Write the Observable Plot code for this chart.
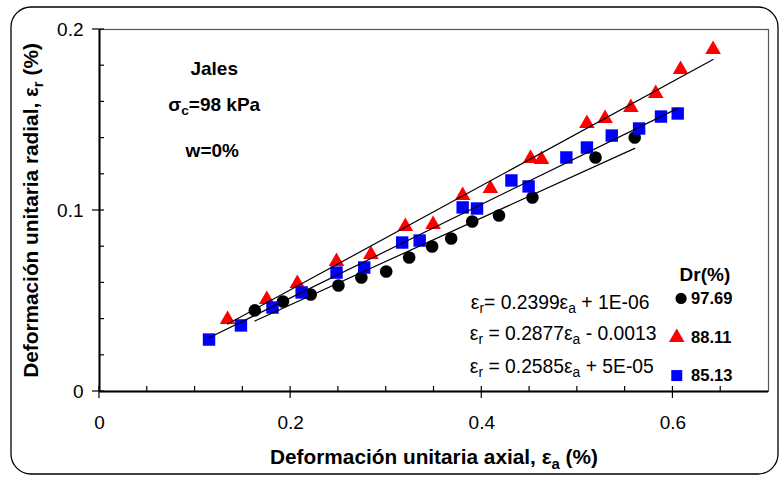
<!DOCTYPE html>
<html>
<head>
<meta charset="utf-8">
<script src="https://cdn.jsdelivr.net/npm/d3@7"></script>
<script src="https://cdn.jsdelivr.net/npm/@observablehq/plot@0.6"></script>
<style>
  html, body { margin: 0; padding: 0; background: white; }
</style>
</head>
<body>
<div id="chart"></div>
<script>
// ---- Data ----
const seriesNames = ["97.69", "88.11", "85.13"];

// Dr = 97.69 % (black circles)
const ea9769 = [0.1625, 0.192, 0.221, 0.250, 0.274, 0.300, 0.324, 0.348, 0.368, 0.390, 0.418, 0.453, 0.519, 0.560];
const er9769 = [0.0448, 0.0497, 0.0536, 0.0586, 0.0630, 0.0663, 0.0740, 0.0801, 0.0845, 0.0939, 0.0972, 0.1072, 0.1293, 0.1403];

// Dr = 88.11 % (red triangles)
const ea8811 = [0.134, 0.175, 0.207, 0.248, 0.284, 0.320, 0.349, 0.380, 0.409, 0.451, 0.4625, 0.510, 0.529, 0.556, 0.582, 0.608, 0.642];
const er8811 = [0.0398, 0.0508, 0.0597, 0.0718, 0.0757, 0.0912, 0.0923, 0.1083, 0.1122, 0.1287, 0.1282, 0.1481, 0.1508, 0.1569, 0.1646, 0.1779, 0.1890];

// Dr = 85.13 % (blue squares)
const ea8513 = [0.1146, 0.148, 0.181, 0.2115, 0.248, 0.277, 0.3167, 0.335, 0.380, 0.395, 0.431, 0.449, 0.4885, 0.510, 0.536, 0.5646, 0.5875, 0.605];
const er8513 = [0.0287, 0.0365, 0.0464, 0.0547, 0.0657, 0.0685, 0.0823, 0.0834, 0.1017, 0.1011, 0.1166, 0.1133, 0.1293, 0.1348, 0.1414, 0.1453, 0.1519, 0.1536];

// Linear trend lines (from the equations printed on the chart)
const fitSlopes = [0.2399, 0.2877, 0.2585];
const fitIntercepts = [0.000001, -0.0013, 0.00005];
const fitLabels = ["ε_r= 0.2399ε_a + 1E-06", "ε_r = 0.2877ε_a - 0.0013", "ε_r = 0.2585ε_a + 5E-05"];

// Axes
const xTicks = [0, 0.2, 0.4, 0.6];
const xTickLabels = ["0", "0.2", "0.4", "0.6"];
const xMinorTicks = [0.05, 0.1, 0.15, 0.25, 0.3, 0.35, 0.45, 0.5, 0.55, 0.65];
const yTicks = [0, 0.1, 0.2];
const yTickLabels = ["0", "0.1", "0.2"];
const yMinorTicks = [0.02, 0.04, 0.06, 0.08, 0.12, 0.14, 0.16, 0.18];

const xTitle = "Deformación unitaria axial, ε_a (%)";
const yTitle = "Deformación unitaria radial, ε_r (%)";
const notes = ["Jales", "σ_c=98 kPa", "w=0%"];
const legendTitle = "Dr(%)";

// ---- Build tables ----
const xs = [ea9769, ea8811, ea8513];
const ys = [er9769, er8811, er8513];
const points = seriesNames.map((name, s) => xs[s].map((x, i) => ({series: name, x, y: ys[s][i]})));
const fitLines = seriesNames.map((name, s) => {
  const x0 = d3.min(xs[s]), x1 = d3.max(xs[s]);
  return [x0, x1].map(x => ({series: name, x, y: fitSlopes[s] * x + fitIntercepts[s]}));
});

const colors = ["black", "#ff0000", "#0000ff"];
const symbols = ["circle", "triangle", "square"];
const radii = [6.3, 5.8, 7.0];

const font = "'Liberation Sans', Arial, sans-serif";

// tick marks drawn through the plot's own scales (inside / outside lengths in px)
const tickMarks = (vals, dim, inside, outside) => (index, scales) => {
  const g = d3.create("svg:g").attr("stroke", "black").attr("stroke-width", 1.2);
  for (const v of vals) {
    if (dim === "x") {
      const px = scales.x(v), py = scales.y(0);
      g.append("line").attr("x1", px).attr("x2", px).attr("y1", py - inside).attr("y2", py + outside);
    } else {
      const py = scales.y(v), px = scales.x(0);
      g.append("line").attr("y1", py).attr("y2", py).attr("x1", px - outside).attr("x2", px + inside);
    }
  }
  return g.node();
};

const marks = [
  Plot.frame({stroke: "#555", strokeWidth: 1.2}),
  tickMarks(xMinorTicks, "x", 5, 0),
  tickMarks(yMinorTicks, "y", 5, 0),
  tickMarks(xTicks, "x", 5, 7),
  tickMarks(yTicks, "y", 5, 7),
  // tick labels
  Plot.axisX(xTicks, {tickSize: 0, tickPadding: 24, label: null, fontSize: 19,
    tickFormat: d => xTickLabels[xTicks.indexOf(d)]}),
  Plot.axisY(yTicks, {tickSize: 0, tickPadding: 16, label: null, fontSize: 19,
    tickFormat: d => yTickLabels[yTicks.indexOf(d)]}),
  Plot.ruleY([0], {strokeWidth: 2}),
  Plot.ruleX([0], {strokeWidth: 2}),
  // data
  ...points.map((pts, s) => Plot.dot(pts, {x: "x", y: "y", symbol: () => symbols[s], fill: colors[s], stroke: "none", r: radii[s]})),
  ...fitLines.map(line => Plot.line(line, {x: "x", y: "y", stroke: "black", strokeWidth: 1.2})),
  // axis titles
  Plot.text([xTitle], {text: d => d, frameAnchor: "bottom", dy: 66, lineAnchor: "middle", textAnchor: "middle", fontWeight: "bold", fontSize: 20.8}),
  Plot.text([yTitle], {text: d => d, frameAnchor: "left", dx: -68, rotate: -90, lineAnchor: "middle", textAnchor: "middle", fontWeight: "bold", fontSize: 20.8}),
  // annotations
  Plot.text([notes[0]], {text: d => d, x: 0.12, y: 0.1785, fontWeight: "bold", fontSize: 19}),
  Plot.text([notes[1]], {text: d => d, x: 0.12, y: 0.1585, fontWeight: "bold", fontSize: 19}),
  Plot.text([notes[2]], {text: d => d, x: 0.118, y: 0.1331, fontWeight: "bold", fontSize: 19}),
  // equations
  Plot.text([fitLabels[0]], {text: d => d, x: 0.3885, y: 0.0492, textAnchor: "start", fontSize: 19.3}),
  Plot.text([fitLabels[1]], {text: d => d, x: 0.3875, y: 0.0320, textAnchor: "start", fontSize: 19.3}),
  Plot.text([fitLabels[2]], {text: d => d, x: 0.3875, y: 0.0138, textAnchor: "start", fontSize: 19.3}),
  // legend
  Plot.text([legendTitle], {text: d => d, x: 0.607, y: 0.0646, textAnchor: "start", fontWeight: "bold", fontSize: 19}),
  Plot.dot([seriesNames[0]], {x: 0.6085, y: 0.0514, symbol: "circle", fill: colors[0], r: 5.6}),
  Plot.dot([seriesNames[1]], {x: 0.604, y: 0.0298, symbol: "triangle", fill: colors[1], r: 5.8}),
  Plot.dot([seriesNames[2]], {x: 0.604, y: 0.0088, symbol: "square", fill: colors[2], r: 6.2}),
  Plot.text([seriesNames[0]], {text: d => d, x: 0.619, y: 0.0514, textAnchor: "start", fontWeight: "bold", fontSize: 16.5}),
  Plot.text([seriesNames[1]], {text: d => d, x: 0.619, y: 0.0298, textAnchor: "start", fontWeight: "bold", fontSize: 16.5}),
  Plot.text([seriesNames[2]], {text: d => d, x: 0.619, y: 0.0088, textAnchor: "start", fontWeight: "bold", fontSize: 16.5})
];

const chart = Plot.plot({
  width: 780,
  height: 477,
  marginLeft: 99,
  marginRight: 12,
  marginTop: 29,
  marginBottom: 86,
  x: {domain: [0, 0.7]},
  y: {domain: [0, 0.2]},
  style: {fontFamily: font, fontSize: "17px", color: "black", background: "white", overflow: "visible"},
  marks
});

// subscripts: "_x" -> subscript tspan
d3.select(chart).selectAll("text").each(function() {
  const t = this.textContent;
  if (!t.includes("_")) return;
  const parts = t.split(/_(\w)/);
  const el = d3.select(this);
  el.text(null);
  parts.forEach((p, i) => {
    if (!p) return;
    const sub = i % 2 === 1;
    const ts = el.append("tspan").text(p);
    if (sub) ts.attr("baseline-shift", "-30%").attr("font-size", "72%");
  });
});

// rounded outer border of the chart area
d3.select(chart).insert("rect", ":first-child")
  .attr("x", 11).attr("y", 7).attr("width", 767).attr("height", 467)
  .attr("rx", 20).attr("ry", 20)
  .attr("fill", "white").attr("stroke", "black").attr("stroke-width", 1.3);

document.getElementById("chart").appendChild(chart);
</script>
</body>
</html>
